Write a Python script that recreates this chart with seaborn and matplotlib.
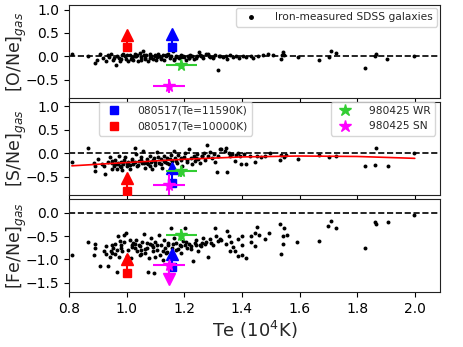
import numpy as np
import pandas as pd
import matplotlib
matplotlib.use('Agg')
import matplotlib.pyplot as plt
import seaborn as sns

# Iron-measured SDSS galaxies (Te in 10^4 K)
one_te = [0.809, 0.867, 0.890, 0.896, 0.907, 0.918, 0.927, 0.935, 0.947, 0.953, 0.962, 0.967,
          0.974, 0.978, 0.988, 0.993, 0.999, 1.005, 1.011, 1.017, 1.022, 1.028, 1.034, 1.040,
          1.045, 1.051, 1.057, 1.063, 1.068, 1.074, 1.080, 1.086, 1.091, 1.097, 1.103, 1.109,
          1.114, 1.120, 1.126, 1.131, 1.137, 1.143, 1.149, 1.155, 1.160, 1.166, 1.172, 1.183,
          1.189, 1.200, 1.206, 1.212, 1.218, 1.227, 1.235, 1.243, 1.250, 1.258, 1.266, 1.275,
          1.281, 1.287, 1.299, 1.308, 1.316, 1.324, 1.333, 1.345, 1.350, 1.358, 1.368, 1.379,
          1.391, 1.403, 1.414, 1.432, 1.440, 1.455, 1.472, 1.489, 1.507, 1.539, 1.541, 1.547,
          1.536, 1.594, 1.669, 1.701, 1.709, 1.726, 1.827, 1.864, 1.862, 1.905, 1.998,
          0.94, 0.98, 1.00, 1.02, 1.03, 1.05, 1.06, 1.08, 1.10, 1.12, 1.14, 1.17, 1.19, 1.22,
          1.24, 1.26, 1.30, 0.955, 0.985, 1.015, 1.035, 1.065, 1.085, 1.105, 1.135, 1.165,
          1.195, 1.215, 1.255, 1.29, 1.32]
one_val = [0.06, 0.00, -0.14, -0.07, 0.05, -0.04, -0.11, 0.03, 0.06, -0.07, -0.18, 0.01,
           -0.04, -0.10, 0.06, 0.00, -0.05, -0.11, 0.03, -0.02, -0.07, 0.04, 0.01, -0.10,
           0.08, -0.02, 0.11, -0.05, 0.02, -0.11, 0.04, -0.02, -0.05, 0.03, -0.07, 0.06,
           0.00, -0.04, 0.03, -0.07, 0.00, 0.04, -0.04, 0.01, 0.11, -0.07, 0.00, -0.04,
           0.03, -0.02, -0.07, 0.01, -0.04, 0.00, -0.05, 0.00, 0.10, 0.01, -0.04, 0.04,
           0.06, 0.00, -0.04, 0.03, -0.29, 0.01, -0.02, 0.00, -0.05, 0.03, -0.02, 0.00,
           -0.04, 0.00, -0.02, 0.01, -0.04, 0.00, 0.03, 0.04, 0.03, 0.03, 0.09, 0.03,
           -0.05, -0.02, -0.07, -0.02, 0.11, 0.08, -0.24, 0.04, 0.00, -0.05, 0.00,
           -0.02, -0.06, 0.02, -0.04, 0.01, -0.08, 0.02, -0.03, 0.01, -0.05, 0.02, -0.02,
           -0.01, 0.02, -0.03, 0.01, -0.02, -0.03, 0.02, -0.06, 0.03, -0.03, 0.01, -0.02,
           0.02, -0.05, 0.01, -0.03, 0.02, -0.01, 0.01]

sne_te = [0.809, 0.867, 0.888, 0.890, 0.892, 0.901, 0.915, 0.925, 0.922, 0.934, 0.942, 0.948,
          0.950, 0.957, 0.959, 0.965, 0.968, 0.973, 0.976, 0.982, 0.985, 0.988, 0.994, 1.000,
          1.005, 1.011, 1.017, 1.023, 1.028, 1.034, 1.037, 1.042, 1.049, 1.053, 1.057, 1.063,
          1.069, 1.075, 1.080, 1.086, 1.088, 1.095, 1.100, 1.107, 1.111, 1.118, 1.123, 1.130,
          1.134, 1.141, 1.146, 1.153, 1.157, 1.164, 1.169, 1.176, 1.180, 1.187, 1.192, 1.199,
          1.204, 1.211, 1.215, 1.222, 1.226, 1.233, 1.238, 1.245, 1.249, 1.256, 1.261, 1.268,
          1.272, 1.279, 1.284, 1.291, 1.295, 1.302, 1.307, 1.314, 1.318, 1.325, 1.329, 1.340,
          1.346, 1.348, 1.355, 1.360, 1.367, 1.375, 1.378, 1.386, 1.392, 1.398, 1.406, 1.415,
          1.427, 1.444, 1.452, 1.467, 1.479, 1.496, 1.531, 1.537, 1.545, 1.554, 1.594, 1.669,
          1.702, 1.727, 1.826, 1.862, 1.866, 1.907, 1.999,
          0.95, 0.97, 0.99, 1.01, 1.03, 1.05, 1.07, 1.09, 1.11, 1.13, 1.15, 1.17, 1.19, 1.21,
          0.96, 0.98, 1.00, 1.02, 1.04, 1.06, 1.08, 1.10, 1.12, 1.14, 1.24, 1.26]
sne_val = [-0.18, 0.11, -0.20, -0.28, -0.39, -0.13, -0.23, -0.45, -0.27, -0.19, -0.09, -0.34,
           -0.21, -0.27, -0.14, -0.34, -0.23, -0.06, -0.28, -0.19, -0.36, -0.23, -0.09, -0.27,
           -0.19, -0.33, -0.13, -0.23, 0.12, -0.02, -0.27, -0.16, -0.09, -0.21, 0.05, -0.31,
           -0.13, -0.23, -0.06, -0.19, -0.34, -0.11, -0.26, 0.02, -0.20, -0.13, -0.31, -0.06,
           -0.19, -0.11, -0.23, -0.04, -0.16, 0.05, -0.11, -0.21, -0.04, -0.14, -0.27, -0.09,
           0.00, -0.19, 0.10, -0.11, -0.23, -0.06, -0.16, -0.02, -0.13, -0.20, -0.07, 0.00,
           -0.14, 0.17, -0.06, 0.03, -0.11, -0.02, -0.19, -0.40, -0.07, 0.08, 0.10, 0.05,
           0.12, -0.40, 0.00, -0.07, -0.02, -0.16, -0.04, 0.00, -0.07, -0.23, -0.02, -0.23,
           -0.07, -0.19, -0.06, -0.09, -0.06, 0.00, -0.14, -0.04, -0.09, -0.04, -0.13, -0.04,
           -0.09, -0.07, -0.27, -0.26, 0.11, -0.27, 0.00,
           -0.17, -0.22, -0.15, -0.25, -0.18, -0.14, -0.20, -0.15, -0.09, -0.16, -0.12, -0.17,
           -0.10, -0.14, -0.24, -0.30, -0.21, -0.17, -0.26, -0.22, -0.28, -0.18, -0.24, -0.20,
           -0.10, -0.05]

fe_te = [0.809, 0.867, 0.890, 0.890, 0.888, 0.907, 0.922, 0.927, 0.936, 0.942, 0.948, 0.945,
         0.953, 0.959, 0.965, 0.968, 0.970, 0.976, 0.982, 0.980, 0.985, 0.991, 0.997, 1.011,
         1.017, 1.023, 1.028, 1.034, 1.037, 1.042, 1.046, 1.051, 1.060, 1.063, 1.069, 1.072,
         1.077, 1.075, 1.084, 1.088, 1.092, 1.095, 1.100, 1.107, 1.111, 1.115, 1.121, 1.127,
         1.130, 1.132, 1.138, 1.144, 1.153, 1.157, 1.164, 1.172, 1.178, 1.184, 1.190, 1.195,
         1.201, 1.204, 1.211, 1.215, 1.222, 1.230, 1.236, 1.242, 1.248, 1.253, 1.259, 1.265,
         1.271, 1.276, 1.282, 1.288, 1.294, 1.299, 1.305, 1.311, 1.317, 1.323,
         1.348, 1.355, 1.329, 1.346, 1.363, 1.369, 1.358, 1.375, 1.386, 1.402, 1.402, 1.386,
         1.402, 1.415, 1.433, 1.433, 1.444, 1.447, 1.453, 1.459, 1.479, 1.494, 1.531, 1.546,
         1.542, 1.557, 1.542, 1.537, 1.592, 1.669, 1.710, 1.698, 1.727, 1.826, 1.862, 1.866,
         1.907, 1.999,
         0.95, 0.99, 1.005, 1.02, 1.03, 1.045, 1.055, 1.065, 1.08, 1.09, 1.105, 1.125, 1.145,
         1.16, 1.17, 1.19, 1.205, 1.225, 1.24, 1.26, 0.93, 0.96, 0.975, 1.00, 1.015, 1.05,
         1.10, 1.14]
fe_val = [-0.90, -0.63, -0.67, -0.76, -0.90, -1.13, -0.83, -0.89, -1.15, -0.94, -0.87, -0.82,
          -0.75, -0.66, -0.79, -1.27, -0.51, -0.60, -0.69, -0.76, -0.83, -0.48, -0.43, -0.58,
          -0.69, -0.64, -0.76, -0.58, -0.83, -0.69, -0.90, -0.79, -0.46, -0.86, -0.65, -0.76,
          -0.98, -1.27, -0.55, -0.70, -0.83, -1.29, -0.62, -0.79, -0.48, -0.90, -0.69, -1.01,
          -0.58, -0.76, -0.87, -0.65, -0.33, -0.75, -0.55, -0.65, -0.77, -0.69, -0.87, -0.60,
          -0.33, -0.69, -0.76, -0.67, -0.72, -1.04, -0.65, -0.58, -0.83, -0.69, -0.72, -0.55,
          -0.67, -0.62, -0.94, -0.56, -0.65, -0.70, -0.33, -0.51, -0.60, -0.56,
          -0.39, -0.49, -0.58, -0.67, -0.63, -0.74, -0.83, -0.83, -0.56, -0.50, -0.69, -0.92,
          -0.90, -0.96, -0.51, -0.63, -0.44, -0.72, -0.30, -0.48, -0.57, -0.43, -0.24, -0.33,
          -0.51, -0.48, -0.67, -0.89, -0.62, -0.60, -0.18, -0.29, -0.33, -0.76, -0.21, -0.25,
          -0.21, -0.06,
          -0.70, -0.62, -0.80, -0.74, -0.66, -0.72, -0.62, -0.78, -0.68, -0.74, -0.70, -0.82,
          -0.70, -0.68, -0.80, -0.72, -0.62, -0.78, -0.70, -0.64, -0.72, -0.88, -0.95, -0.92,
          -0.98, -0.88, -0.95, -0.85]

# red fit through [S/Ne]
fit_te = [0.81, 1.0, 1.2, 1.4, 1.6, 1.8, 2.0]
fit_val = [-0.27, -0.20, -0.13, -0.08, -0.06, -0.07, -0.11]

# GRB host values, one entry per panel: [O/Ne], [S/Ne], [Fe/Ne]
te_hi, te_lo = 1.159, 1.0
hi_val = [0.21, -0.63, -1.17]
hi_lim = [0.48, -0.31, -0.89]
lo_val = [0.19, -0.81, -1.28]
lo_lim = [0.46, -0.52, -1.00]
wr_te, wr_xerr = 1.19, 0.055
wr_val = [-0.18, -0.39, -0.48]
wr_yerr = [0.10, 0.11, 0.13]
sn_te, sn_xerr = 1.148, 0.056
sn_val = [-0.64, -0.67, -1.12]
sn_yerr = [0.15, 0.22, 0.07]
sn_fe_lim = -1.42

ylabels = ['[O/Ne]$_{gas}$', '[S/Ne]$_{gas}$', '[Fe/Ne]$_{gas}$']

sns.set_style('ticks')
plt.rcParams['font.family'] = ['DejaVu Sans']
plt.rcParams['mathtext.fontset'] = 'dejavusans'

fig, axes = plt.subplots(3, 1, figsize=(4.63, 3.47), dpi=100, sharex=True)
fig.subplots_adjust(left=0.149, right=0.950, top=0.986, bottom=0.158, hspace=0.035)

panels = [(one_te, one_val), (sne_te, sne_val), (fe_te, fe_val)]
for i, ax in enumerate(axes):
    df = pd.DataFrame({'Te': panels[i][0], 'val': panels[i][1]})
    ax.axhline(0, color='k', ls='--', lw=1.2, zorder=1)
    sns.scatterplot(data=df, x='Te', y='val', ax=ax, color='k', s=8, linewidth=0,
                    zorder=2, legend=False)

    # 080517, lower limits drawn as arrows
    ax.plot([te_lo, te_lo], [lo_val[i], lo_lim[i]], color='r', lw=1.5, zorder=3)
    ax.plot(te_lo, lo_val[i], 's', color='r', ms=6, zorder=3)
    ax.plot(te_lo, lo_lim[i], '^', color='r', ms=8, zorder=3)
    ax.plot([te_hi, te_hi], [hi_val[i], hi_lim[i]], color='b', lw=1.5, zorder=3)
    ax.plot(te_hi, hi_val[i], 's', color='b', ms=6, zorder=3)
    ax.plot(te_hi, hi_lim[i], '^', color='b', ms=8, zorder=3)

    # 980425
    ax.errorbar(wr_te, wr_val[i], xerr=wr_xerr, yerr=wr_yerr[i], fmt='*', color='limegreen',
                ms=8.5, elinewidth=1.5, capsize=0, zorder=4)
    ax.errorbar(sn_te, sn_val[i], xerr=sn_xerr, yerr=sn_yerr[i], fmt='*', color='magenta',
                ms=8.5, elinewidth=1.5, capsize=0, zorder=5)
    if i == 2:
        ax.plot([sn_te, sn_te], [sn_val[i], sn_fe_lim], color='magenta', lw=1.5, zorder=5)
        ax.plot(sn_te, sn_fe_lim, 'v', color='magenta', ms=8, zorder=5)

# fit line in the [S/Ne] panel
fit_df = pd.DataFrame({'Te': fit_te, 'val': fit_val})
sns.lineplot(data=fit_df, x='Te', y='val', ax=axes[1], color='r', lw=1.2, sort=False,
             estimator=None, zorder=3)

for i, ax in enumerate(axes):
    ax.set_ylabel(ylabels[i], fontsize=12.5)
    ax.yaxis.set_label_coords(-0.108, 0.5)
    ax.set_xlabel('')
    ax.tick_params(labelsize=10, length=3.5, colors='k')
    for sp in ax.spines.values():
        sp.set_color('#222222')

axes[0].set_ylim(-0.9, 1.1)
axes[1].set_ylim(-0.9, 1.1)
axes[2].set_ylim(-1.7, 0.3)
for ax in axes[:2]:
    ax.set_yticks([-0.5, 0.0, 0.5, 1.0])
axes[2].set_yticks([-1.5, -1.0, -0.5, 0.0])
axes[2].set_xlim(0.8, 2.087)
axes[2].set_xticks([0.8, 1.0, 1.2, 1.4, 1.6, 1.8, 2.0])
axes[2].set_xlabel('Te (10$^4$K)', fontsize=13, labelpad=2)

# legends
dot = plt.Line2D([], [], ls='', marker='o', color='k', ms=2.5)
axes[0].legend([dot], ['Iron-measured SDSS galaxies'], loc='upper right', fontsize=7.7,
               borderaxespad=0.3, handletextpad=1.2)

sq_b = plt.Line2D([], [], ls='', marker='s', color='b', ms=6)
sq_r = plt.Line2D([], [], ls='', marker='s', color='r', ms=6)
st_g = plt.Line2D([], [], ls='', marker='*', color='limegreen', ms=9)
st_m = plt.Line2D([], [], ls='', marker='*', color='magenta', ms=9)
leg1 = axes[1].legend([sq_b, sq_r], ['080517(Te=11590K)', '080517(Te=10000K)'],
                      loc='upper left', bbox_to_anchor=(0.081, 1.0), borderaxespad=0,
                      fontsize=7.7, handletextpad=1.2)
axes[1].add_artist(leg1)
axes[1].legend([st_g, st_m], ['980425 WR', '980425 SN'], loc='upper right',
               bbox_to_anchor=(0.987, 1.0), borderaxespad=0, fontsize=7.7, handletextpad=1.2)

fig.savefig('out.png', dpi=100)
